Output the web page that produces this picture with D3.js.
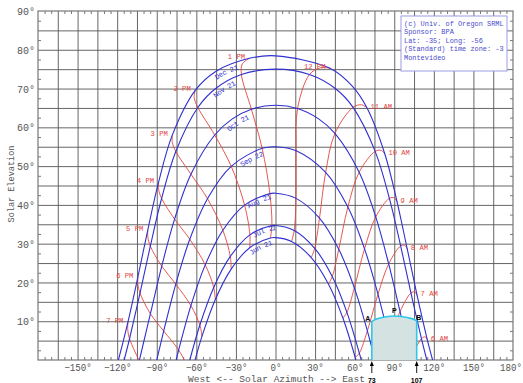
<!DOCTYPE html>
<html lang="en">
  <head>
    <meta charset="UTF-8" />
    <title>Sun path chart - Montevideo</title>
    <style>
      body { margin: 0; background: #fff; }
      svg { display: block; }
    </style>
  </head>
  <body>
    <svg id="chart"></svg>
    <script src="https://cdnjs.cloudflare.com/ajax/libs/d3/7.8.5/d3.min.js"></script>
    <script>
      // Date curves (azimuth, elevation), sunrise -> sunset
      const dateLabels = ["Dec 21", "Nov 21", "Oct 21", "Sep 22", "Aug 21", "Jul 21", "Jun 21"];
      const dateAz = [
        [119.05, 115.08, 107.31, 99.88, 92.13, 82.92, 69.38, 58.36, 41.26, 0, -19.7, -45.29, -60.85, -78.23, -88.66, -96.81, -104.27, -111.84, -119.05],
        [114.68, 110.61, 102.68, 94.86, 86.31, 75.53, 58.77, 45.33, 25.71, 0, -25.83, -45.33, -58.83, -75.57, -86.33, -94.88, -102.7, -110.63, -114.68],
        [103.1, 94.41, 85.78, 75.98, 63.4, 45.04, 32.96, 16.71, 0, -18.27, -32.96, -46.09, -64.09, -76.48, -86.2, -94.8, -103.1],
        [90, 86.64, 77.68, 67.49, 54.84, 38.01, 15.67, 0, -10.13, -33.58, -51.56, -64.97, -75.58, -84.72, -90],
        [75.3, 69.62, 59.76, 47.95, 33.34, 15.57, 0, -4.25, -23.44, -39.9, -53.24, -64.12, -73.4, -75.3],
        [64.94, 63.55, 54.12, 43.01, 29.71, 14.17, 0, -2.76, -19.4, -34.26, -46.82, -57.32, -64.94],
        [60.95, 51.08, 40.1, 27.1, 12.16, 0, -3.87, -19.54, -33.6, -45.6, -55.74, -60.95],
      ];
      const dateEl = [
        [0, 5.2, 16.65, 28.58, 40.79, 53.06, 64.98, 70.57, 75.24, 78.44, 77.8, 74.42, 69.52, 57.98, 45.79, 33.52, 21.45, 9.78, 0],
        [0, 5.51, 17.27, 29.41, 41.68, 53.8, 65.15, 70.0, 73.61, 75.0, 73.6, 70.0, 65.12, 53.78, 41.65, 29.37, 17.24, 5.48, 0],
        [0, 12.5, 24.78, 36.9, 48.42, 58.43, 62.12, 64.84, 65.7, 64.67, 62.12, 58.02, 47.91, 36.34, 24.2, 11.93, 0],
        [0, 4.79, 16.95, 28.67, 39.44, 48.37, 53.97, 55, 54.58, 49.95, 41.6, 31.14, 19.58, 7.48, 0],
        [0, 7.5, 18.61, 28.54, 36.57, 41.68, 43, 42.91, 39.95, 33.47, 24.53, 14.03, 2.58, 0],
        [0, 1.78, 12.29, 21.51, 28.81, 33.42, 34.7, 34.65, 32.28, 26.71, 18.71, 9.02, 0],
        [0, 10.82, 19.61, 26.42, 30.57, 31.56, 31.46, 28.96, 23.44, 15.6, 6.09, 0],
      ];

      // Hour lines: samples on Jun 21, Jul 21, Aug 21, Sep 22, Oct 21, Nov 21, Dec 6, Dec 21
      // null = sun well below the horizon on that date
      const hourLabels = ["6 AM", "7 AM", "8 AM", "9 AM", "10 AM", "11 AM", "12 PM", "1 PM", "2 PM", "3 PM", "4 PM", "5 PM", "6 PM", "7 PM"];
      const hourAz = [
        [null, null, null, 95.28, 102.84, 110.61, 113.36, 115.08],
        [null, null, 78.35, 86.64, 94.41, 102.68, 105.58, 107.31],
        [60.41, 63.55, 69.62, 77.68, 85.78, 94.86, 98.04, 99.88],
        [51.08, 54.12, 59.76, 67.49, 75.98, 86.31, 90.03, 92.13],
        [40.1, 43.01, 47.95, 54.84, 63.4, 75.53, 80.23, 82.92],
        [27.1, 29.71, 33.34, 38.01, 45.04, 58.77, 65.28, 69.38],
        [12.16, 14.17, 15.57, 15.67, 16.71, 25.71, 33.85, 41.26],
        [-3.87, -2.76, -4.25, -10.13, -18.27, -25.83, -25.14, -19.7],
        [-19.54, -19.4, -23.44, -33.58, -46.09, -58.83, -61.64, -60.85],
        [-33.6, -34.26, -39.9, -51.56, -64.09, -75.57, -78.2, -78.23],
        [-45.6, -46.82, -53.24, -64.97, -76.48, -86.33, -88.53, -88.66],
        [-55.74, -57.32, -64.12, -75.58, -86.2, -94.88, -96.73, -96.81],
        [null, -66.33, -73.4, -84.72, -94.8, -102.7, -104.29, -104.27],
        [null, null, null, null, -103.24, -110.63, -111.99, -111.84],
      ];
      const hourEl = [
        [null, null, null, -7.48, 0.36, 5.51, 5.97, 5.2],
        [null, null, -4.3, 4.79, 12.5, 17.27, 17.55, 16.65],
        [0.66, 1.78, 7.5, 16.95, 24.78, 29.41, 29.57, 28.58],
        [10.82, 12.29, 18.61, 28.67, 36.9, 41.68, 41.81, 40.79],
        [19.61, 21.51, 28.54, 39.44, 48.42, 53.8, 54.04, 53.06],
        [26.42, 28.81, 36.57, 48.37, 58.43, 65.15, 65.81, 64.98],
        [30.57, 33.42, 41.68, 53.97, 64.84, 73.61, 75.34, 75.24],
        [31.46, 34.65, 42.91, 54.58, 64.67, 73.6, 76.37, 77.8],
        [28.96, 32.28, 39.95, 49.95, 58.02, 65.12, 67.67, 69.52],
        [23.44, 26.71, 33.47, 41.6, 47.91, 53.78, 56.09, 57.98],
        [15.6, 18.71, 24.53, 31.14, 36.34, 41.65, 43.91, 45.79],
        [6.09, 9.02, 14.03, 19.58, 24.2, 29.37, 31.65, 33.52],
        [null, -1.81, 2.58, 7.48, 11.93, 17.24, 19.57, 21.45],
        [null, null, null, null, -0.2, 5.48, 7.9, 9.78],
      ];

      // shaded window A-P-B
      const shadeAz = [73, 80, 90, 100, 107];
      const shadeEl = [9.9, 10.9, 11.35, 10.95, 10.1];
      const markAz = [73, 107];

      const xTicks = [-150, -120, -90, -60, -30, 0, 30, 60, 90, 120, 150, 180];
      const yTicks = [10, 20, 30, 40, 50, 60, 70, 80, 90];

      const legendLines = [
        "(c) Univ. of Oregon SRML",
        "Sponsor: BPA",
        "Lat: -35; Long: -56",
        "(Standard) time zone: -3",
        "Montevideo",
      ];
    </script>

    <script>
      const width = 523,
        height = 383,
        plot = { left: 38, right: 513, top: 11, bottom: 360 },
        mono = "'Liberation Mono', 'DejaVu Sans Mono', monospace",
        gridColor = "#555",
        red = "#e2453f",
        blue = "#3030d0";

      const x = d3.scaleLinear().domain([-180, 180]).range([plot.left, plot.right]);
      const y = d3.scaleLinear().domain([0, 90]).range([plot.bottom, plot.top]);

      const svg = d3.select("#chart").attr("width", width).attr("height", height);
      svg.append("rect").attr("width", width).attr("height", height).attr("fill", "#fff");

      // squeeze monospace text to the width seen on the chart
      function fit(sel, charW) {
        sel.each(function () {
          const n = this.textContent.length;
          d3.select(this).attr("textLength", n * charW).attr("lengthAdjust", "spacingAndGlyphs");
        });
      }

      // grid
      svg
        .append("g")
        .attr("transform", `translate(0, ${plot.bottom})`)
        .call(d3.axisBottom(x).tickValues(d3.range(-165, 180, 15)).tickSize(-(plot.bottom - plot.top)).tickFormat(""))
        .call((g) => g.select(".domain").remove())
        .call((g) => g.selectAll("line").attr("stroke", gridColor).attr("stroke-width", 0.9));

      svg
        .append("g")
        .attr("transform", `translate(${plot.left}, 0)`)
        .call(d3.axisLeft(y).tickValues(d3.range(5, 90, 5)).tickSize(-(plot.right - plot.left)).tickFormat(""))
        .call((g) => g.select(".domain").remove())
        .call((g) => g.selectAll("line").attr("stroke", gridColor).attr("stroke-width", 0.9));

      // minor ticks on all four sides
      const minorX = d3.range(-175, 180, 5).filter((d) => d % 15 !== 0);
      const minorY = d3.range(2.5, 90, 5);
      const minor = [
        [d3.axisTop(x).tickValues(minorX), `translate(0, ${plot.top})`],
        [d3.axisBottom(x).tickValues(minorX), `translate(0, ${plot.bottom})`],
        [d3.axisLeft(y).tickValues(minorY), `translate(${plot.left}, 0)`],
        [d3.axisRight(y).tickValues(minorY), `translate(${plot.right}, 0)`],
      ];
      minor.forEach(([axis, tr]) => {
        svg
          .append("g")
          .attr("transform", tr)
          .call(axis.tickSize(-3).tickFormat(""))
          .call((g) => g.select(".domain").remove())
          .call((g) => g.selectAll("line").attr("stroke", gridColor).attr("stroke-width", 0.8));
      });

      // frame
      svg
        .append("rect")
        .attr("x", plot.left)
        .attr("y", plot.top)
        .attr("width", plot.right - plot.left)
        .attr("height", plot.bottom - plot.top)
        .attr("fill", "none")
        .attr("stroke", "#777")
        .attr("stroke-width", 1.2);

      // curves, clipped to the plot
      svg
        .append("clipPath")
        .attr("id", "plot-clip")
        .append("rect")
        .attr("x", plot.left)
        .attr("y", plot.top)
        .attr("width", plot.right - plot.left)
        .attr("height", plot.bottom - plot.top);

      const curves = svg.append("g").attr("clip-path", "url(#plot-clip)");
      const line = d3
        .line()
        .x((d) => x(d[0]))
        .y((d) => y(d[1]))
        .curve(d3.curveCatmullRom.alpha(0.5));

      // hour lines
      hourLabels.forEach((label, i) => {
        const pts = d3.zip(hourAz[i], hourEl[i]).filter((d) => d[0] !== null);
        curves.append("path").attr("d", line(pts)).attr("fill", "none").attr("stroke", red).attr("stroke-width", 0.9);
      });

      // date curves (drawn west -> east so labels read left to right)
      const datePaths = dateLabels.map((label, i) => {
        const pts = d3.zip(dateAz[i], dateEl[i]).reverse();
        return curves
          .append("path")
          .attr("id", "date-" + i)
          .attr("d", line(pts))
          .attr("fill", "none")
          .attr("stroke", blue)
          .attr("stroke-width", 1.1);
      });

      // date labels along the curves: where on the curve, and how far below it
      const labelAz = [-39, -41, -31, -20, -13.5, -9, -13];
      const labelDy = [7.5, 7.5, 8.5, 7.5, 5.5, 5, 7.2];
      function lengthAtX(node, tx) {
        let lo = 0,
          hi = node.getTotalLength();
        for (let k = 0; k < 30; k++) {
          const mid = (lo + hi) / 2;
          if (node.getPointAtLength(mid).x < tx) lo = mid;
          else hi = mid;
        }
        return lo;
      }
      dateLabels.forEach((label, i) => {
        const node = datePaths[i].node();
        svg
          .append("text")
          .attr("font-family", mono)
          .attr("font-size", 7.2)
          .attr("fill", blue)
          .attr("dy", labelDy[i])
          .append("textPath")
          .attr("href", "#date-" + i)
          .attr("startOffset", lengthAtX(node, x(labelAz[i])))
          .attr("text-anchor", "middle")
          .text(label);
      });

      // hour labels at the Dec 21 end of each line
      hourLabels.forEach((label, i) => {
        const last = hourAz[i].length - 1;
        const px = x(hourAz[i][last]),
          py = y(hourEl[i][last]);
        const pm = label.includes("PM");
        svg
          .append("text")
          .attr("x", pm ? px - 4.5 : px + 3.5)
          .attr("y", py + 1)
          .attr("text-anchor", pm ? "end" : "start")
          .attr("font-family", mono)
          .attr("font-size", 7.6)
          .attr("fill", red)
          .text(label)
          .call(fit, 4.3);
      });

      // shaded window
      const shade = [[shadeAz[0], 0], ...d3.zip(shadeAz, shadeEl), [shadeAz[shadeAz.length - 1], 0]];
      svg
        .append("path")
        .attr(
          "d",
          d3
            .line()
            .x((d) => x(d[0]))
            .y((d) => y(d[1]))
            .curve(d3.curveMonotoneX)(shade)
        )
        .attr("fill", "#d4e2e2")
        .attr("stroke", "#2cc8ea")
        .attr("stroke-width", 1.6);

      const bold = "'Liberation Sans', Arial, sans-serif";
      const corner = [
        ["A", x(shadeAz[0]) - 1.5, y(shadeEl[0]) - 1, "end"],
        ["P", x(90), y(11.35) - 2.5, "middle"],
        ["B", x(shadeAz[shadeAz.length - 1]) - 0.5, y(shadeEl[shadeEl.length - 1]) - 1, "start"],
      ];
      svg
        .append("g")
        .selectAll("text")
        .data(corner)
        .join("text")
        .attr("x", (d) => d[1])
        .attr("y", (d) => d[2])
        .attr("text-anchor", (d) => d[3])
        .attr("font-family", bold)
        .attr("font-weight", "bold")
        .attr("font-size", 7)
        .text((d) => d[0]);

      // arrows under the axis
      const marks = svg.append("g").selectAll("g").data(markAz).join("g").attr("transform", (d) => `translate(${x(d)}, 0)`);
      marks.append("line").attr("y1", 373).attr("y2", 364).attr("stroke", "#000").attr("stroke-width", 0.9);
      marks.append("path").attr("d", "M0,361 L-2,366 L2,366 Z").attr("fill", "#000");
      marks
        .append("text")
        .attr("y", 382.5)
        .attr("text-anchor", "middle")
        .attr("font-family", bold)
        .attr("font-weight", "bold")
        .attr("font-size", 7)
        .text((d) => d);

      // tick labels (the last one is nudged in so it stays inside the picture)
      svg
        .append("g")
        .attr("transform", `translate(0, ${plot.bottom})`)
        .call(
          d3
            .axisBottom(x)
            .tickValues(xTicks)
            .tickSize(0)
            .tickPadding(4)
            .tickFormat((d) => (d < 0 ? "\u2212" : "") + Math.abs(d) + "\u00b0")
        )
        .call((g) => g.select(".domain").remove())
        .call((g) =>
          g
            .selectAll("text")
            .attr("font-family", mono)
            .attr("font-size", 10)
            .attr("fill", "#555")
            .attr("dx", (d) => (d === 180 ? -2.5 : 0))
            .call(fit, 5.5)
        );

      svg
        .append("g")
        .attr("transform", `translate(${plot.left}, 0)`)
        .call(
          d3
            .axisLeft(y)
            .tickValues(yTicks)
            .tickSize(0)
            .tickPadding(3)
            .tickFormat((d) => d + "\u00b0")
        )
        .call((g) => g.select(".domain").remove())
        .call((g) => g.selectAll("text").attr("font-family", mono).attr("font-size", 10).attr("fill", "#555").attr("dy", "0.36em"));

      // axis titles
      svg
        .append("text")
        .attr("x", 276.5)
        .attr("y", 381.5)
        .attr("text-anchor", "middle")
        .attr("font-family", mono)
        .attr("font-size", 9.6)
        .attr("fill", "#555")
        .text("West <-- Solar Azimuth --> East")
        .call(fit, 5.71);

      svg
        .append("text")
        .attr("transform", "translate(14, 184) rotate(-90)")
        .attr("text-anchor", "middle")
        .attr("font-family", mono)
        .attr("font-size", 9.4)
        .attr("fill", "#555")
        .text("Solar Elevation")
        .call(fit, 5.13);

      // legend box
      const legend = svg.append("g").attr("transform", "translate(401, 16)");
      legend.append("rect").attr("width", 106).attr("height", 55).attr("fill", "#fff").attr("stroke", "#9c9ce6").attr("stroke-width", 1);
      legend
        .selectAll("text")
        .data(legendLines)
        .join("text")
        .attr("x", 3)
        .attr("y", (d, i) => 9.5 + i * 8.5)
        .attr("font-family", mono)
        .attr("font-size", 8)
        .attr("fill", "#4b4bcc")
        .text((d) => d)
        .call(fit, 4.15);
    </script>
  </body>
</html>
